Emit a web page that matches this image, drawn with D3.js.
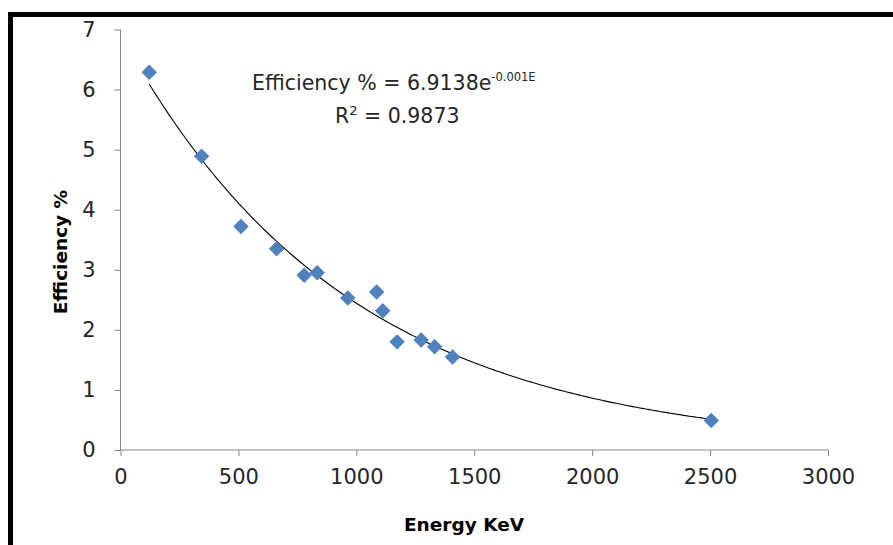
<!DOCTYPE html>
<html>
<head>
<meta charset="utf-8">
<script src="https://cdn.jsdelivr.net/npm/d3@7"></script>
<style>
  body { margin: 0; background: #fff; }
  svg { display: block; }
  .axis path, .axis line { stroke: #868686; }
  .axis text { fill: #262626; font-family: "DejaVu Sans", sans-serif; font-size: 21px; }
</style>
</head>
<body>
<div id="chart"></div>
<script>
// gamma energies (keV) and measured efficiency (%)
const energies = [122, 344, 511, 662, 779, 834, 964, 1086, 1112, 1173, 1275, 1332, 1408, 2505]
const efficiencies = [6.29, 4.89, 3.72, 3.35, 2.91, 2.95, 2.53, 2.63, 2.32, 1.80, 1.83, 1.72, 1.55, 0.49]
const xTicks = [0, 500, 1000, 1500, 2000, 2500, 3000]
const yTicks = [0, 1, 2, 3, 4, 5, 6, 7]
// exponential trendline fitted in the original sheet
const fitA = 6.9138
const fitK = 0.00104

const svgWidth = 893
const svgHeight = 545
let margin = { top: 29.5, left: 120.5 }
let width = 707.5
let height = 420.5

let svg = d3.select("#chart")
  .append("svg")
  .attr("width", svgWidth)
  .attr("height", svgHeight)

// outer frame
svg.append("rect")
  .attr("x", 10.5)
  .attr("y", 14.5)
  .attr("width", svgWidth + 20)
  .attr("height", svgHeight + 20)
  .attr("fill", "none")
  .attr("stroke", "#000")
  .attr("stroke-width", 5)

let chartGroup = svg.append("g")
  .attr("transform", `translate(${margin.left}, ${margin.top})`)

let x = d3.scaleLinear().domain([0, 3000]).range([0, width])
let y = d3.scaleLinear().domain([0, 7]).range([height, 0])

chartGroup.append("g")
  .attr("class", "axis")
  .attr("transform", `translate(0, ${height})`)
  .call(d3.axisBottom(x).tickValues(xTicks).tickSize(6).tickPadding(13).tickFormat(d3.format("d")))
  .call(g => g.select(".domain").attr("d", `M0,0H${width}`))

chartGroup.append("g")
  .attr("class", "axis")
  .call(d3.axisLeft(y).tickValues(yTicks).tickSize(6).tickPadding(19).tickFormat(d3.format("d")))
  .call(g => g.select(".domain").attr("d", `M0,0V${height}`))

// trendline
let fitE = d3.range(energies[0], energies[energies.length - 1] + 1, 10)
chartGroup.append("path")
  .datum(fitE)
  .attr("fill", "none")
  .attr("stroke", "#000")
  .attr("stroke-width", 1.1)
  .attr("d", d3.line().x(e => x(e)).y(e => y(fitA * Math.exp(-fitK * e))))

// markers
let diamond = d3.symbol().type(d3.symbolSquare).size(120)
chartGroup.selectAll(".pt")
  .data(energies)
  .enter()
  .append("path")
  .attr("class", "pt")
  .attr("d", diamond)
  .attr("fill", "#4F81BD")
  .attr("transform", (d, i) => `translate(${x(d)}, ${y(efficiencies[i])}) rotate(45)`)

// equation label
let eq = svg.append("text")
  .attr("x", 252)
  .attr("y", 90)
  .style("font-family", "'DejaVu Sans', sans-serif")
  .style("font-size", "20.5px")
  .style("fill", "#262626")
eq.append("tspan").text("Efficiency % = 6.9138e")
eq.append("tspan").attr("dy", -9).style("font-size", "11.5px").text("-0.001E")

let r2 = svg.append("text")
  .attr("x", 335)
  .attr("y", 123)
  .style("font-family", "'DejaVu Sans', sans-serif")
  .style("font-size", "20.5px")
  .style("fill", "#262626")
r2.append("tspan").text("R")
r2.append("tspan").attr("dy", -8).style("font-size", "13px").text("2")
r2.append("tspan").attr("dy", 8).text(" = 0.9873")

// axis titles
svg.append("text")
  .attr("x", 464)
  .attr("y", 531)
  .attr("text-anchor", "middle")
  .style("font-family", "'DejaVu Sans', sans-serif")
  .style("font-size", "18.5px")
  .style("font-weight", "bold")
  .style("fill", "#000")
  .text("Energy KeV")

svg.append("text")
  .attr("transform", "translate(67, 252) rotate(-90)")
  .attr("text-anchor", "middle")
  .style("font-family", "'DejaVu Sans', sans-serif")
  .style("font-size", "18.5px")
  .style("font-weight", "bold")
  .style("fill", "#000")
  .text("Efficiency %")
</script>
</body>
</html>
